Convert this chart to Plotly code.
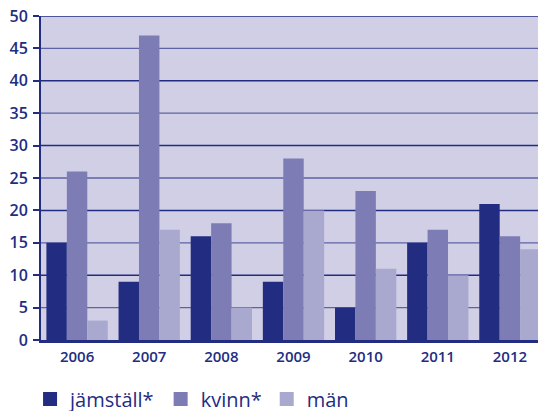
import plotly.graph_objects as go

years = ["2006", "2007", "2008", "2009", "2010", "2011", "2012"]
jamstall = [15, 9, 16, 9, 5, 15, 21]
kvinn = [26, 47, 18, 28, 23, 17, 16]
man = [3, 17, 5, 20, 11, 10, 14]
series_names = ["jämställ*", "kvinn*", "män"]
colors = ["#222d82", "#7d7cb5", "#a9a8cf"]
y_ticks = [0, 5, 10, 15, 20, 25, 30, 35, 40, 45, 50]

fig = go.Figure()
for name, vals, col in zip(series_names, [jamstall, kvinn, man], colors):
    fig.add_trace(go.Bar(x=years, y=vals, name=name, showlegend=False,
                         marker=dict(color=col, line=dict(width=0))))
# legend entries with square swatches
for name, col in zip(series_names, colors):
    fig.add_trace(go.Scatter(x=[None], y=[None], mode="markers", name=name,
                             marker=dict(symbol="square", size=14, color=col)))

font_family = "'Open Sans', sans-serif"
text_col = "#222d82"

for v in y_ticks[1:]:
    fig.add_shape(type="line", xref="paper", yref="y", x0=0, x1=1, y0=v, y1=v,
                  line=dict(color="#222d82" if v % 10 == 0 else "#5d62a6",
                            width=1.5 if v % 10 == 0 else 1.3),
                  layer="below")

# the page body has an 8px margin, so the figure is sized/offset to compensate
fig.update_layout(
    width=538, height=403,
    margin=dict(l=33, r=0, t=8, b=71, autoexpand=False),
    paper_bgcolor="white",
    plot_bgcolor="#d1cfe6",
    barmode="group",
    bargap=0.15,
    bargroupgap=0,
    font=dict(family=font_family, color=text_col),
    showlegend=True,
    legend=dict(orientation="h", xref="container", yref="container",
                x=0.041, y=0.03, xanchor="left", yanchor="middle",
                font=dict(size=20, color=text_col, family=font_family),
                itemsizing="trace", traceorder="normal", itemwidth=30,
                bgcolor="rgba(0,0,0,0)"),
    xaxis=dict(showgrid=False, showline=True, linecolor="#222d82", linewidth=2.5,
               ticks="", tickfont=dict(size=15, color=text_col, weight=600),
               ticklabelstandoff=1, ticklabeloverflow="allow"),
    yaxis=dict(range=[0, 50], tickvals=y_ticks, showgrid=False, zeroline=False,
               showline=True, linecolor="#222d82", linewidth=2,
               ticks="outside", ticklen=6, tickcolor="#222d82", tickwidth=1.5,
               tickfont=dict(size=16, color=text_col, weight=600), ticklabelstandoff=2,
               ticklabeloverflow="allow"),
)

fig.write_html("out.html")
